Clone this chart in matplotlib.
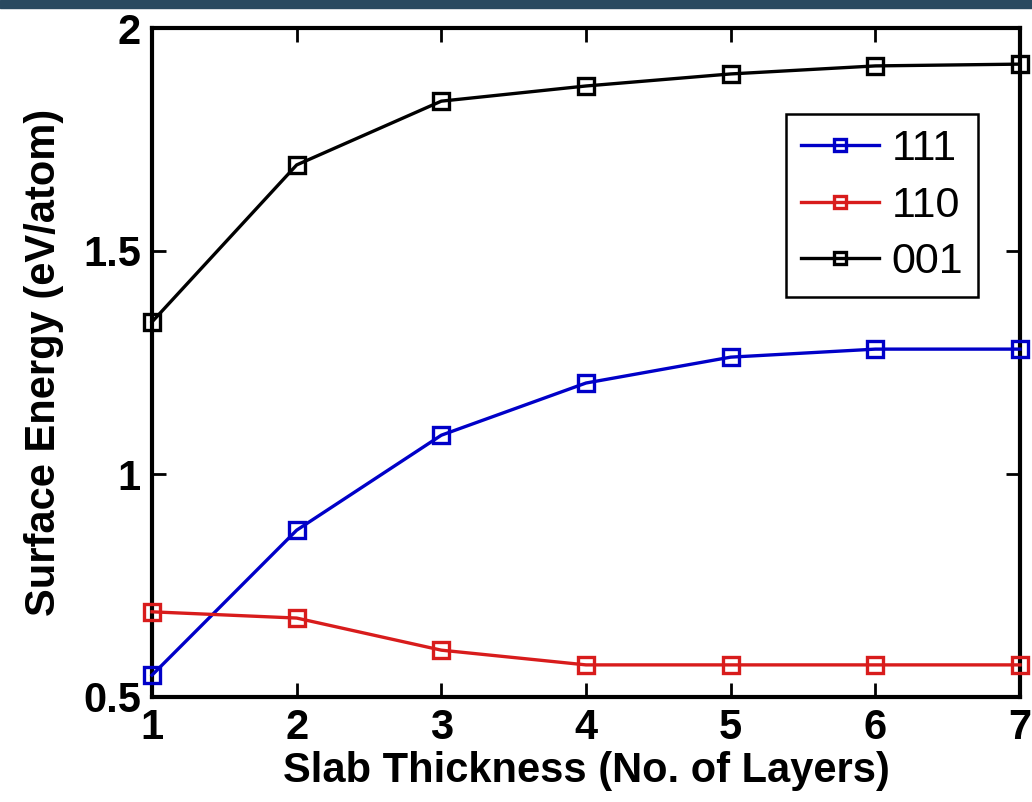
import matplotlib
matplotlib.use("Agg")
import matplotlib.pyplot as plt
from matplotlib.patches import Rectangle

# Surface energy vs slab thickness
layers = [1, 2, 3, 4, 5, 6, 7]
e_111 = [0.549, 0.874, 1.087, 1.204, 1.262, 1.280, 1.280]
e_110 = [0.691, 0.677, 0.605, 0.572, 0.572, 0.572, 0.572]
e_001 = [1.341, 1.693, 1.836, 1.870, 1.897, 1.915, 1.919]

series = [("111", e_111, "#0000c8"), ("110", e_110, "#d81c1c"), ("001", e_001, "black")]

plt.rcParams["font.family"] = ["Liberation Sans Narrow", "Liberation Sans", "DejaVu Sans"]

fig = plt.figure(figsize=(10.32, 8.02), dpi=100)
ax = fig.add_axes([152 / 1032, 105 / 802, 868 / 1032, 669 / 802])

# dark banner strip at the top of the screenshot
fig.patches.append(Rectangle((0, 1 - 8 / 802), 1, 8 / 802, transform=fig.transFigure,
                             color="#2a4a60", zorder=0))

for name, vals, col in series:
    ax.plot(layers, vals, color=col, lw=2.4, marker="s", ms=12, mfc="none",
            mec=col, mew=2.4, label=name, clip_on=False, zorder=3)

ax.set_xlim(1, 7)
ax.set_ylim(0.5, 2)
ax.set_xticks(layers)
ax.set_yticks([0.5, 1, 1.5, 2])
ax.set_yticklabels(["0.5", "1", "1.5", "2"])
ax.tick_params(direction="in", length=10, width=2, top=True, right=True,
               labelsize=30, pad=8)
for lab in ax.get_xticklabels() + ax.get_yticklabels():
    lab.set_fontweight("bold")
for sp in ax.spines.values():
    sp.set_linewidth(3)

ax.set_xlabel("Slab Thickness (No. of Layers)", fontsize=30, fontweight="bold", labelpad=2)
ax.set_ylabel("Surface Energy (eV/atom)", fontsize=30, fontweight="bold", labelpad=14)

leg = ax.legend(loc="upper right", bbox_to_anchor=(0.952, 0.871), borderaxespad=0,
                fontsize=31, fancybox=False, framealpha=1, edgecolor="black",
                handlelength=1.8, borderpad=0.35, labelspacing=0.38, handletextpad=0.3,
                markerscale=0.7)
leg.get_frame().set_linewidth(1.8)
for t in leg.get_texts():
    t.set_fontfamily(["Liberation Sans", "DejaVu Sans"])

fig.savefig("out.png", dpi=100)
